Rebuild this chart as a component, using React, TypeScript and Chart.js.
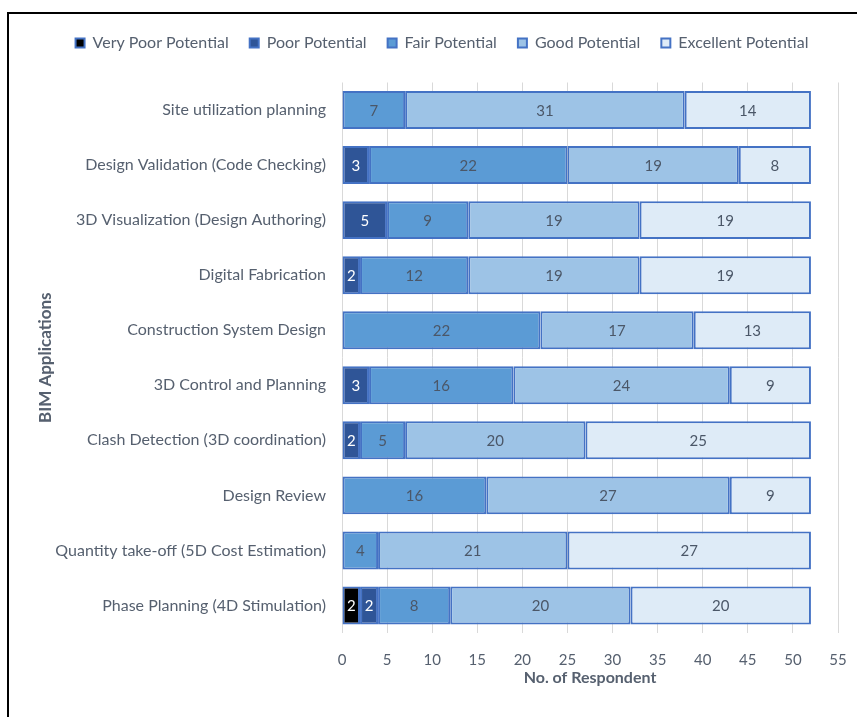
import React, { useEffect, useRef } from 'react';
import { Chart, registerables } from 'chart.js';

Chart.register(...registerables);

const categories = [
  'Site utilization planning',
  'Design Validation (Code Checking)',
  '3D Visualization (Design Authoring)',
  'Digital Fabrication',
  'Construction System Design',
  '3D Control and Planning',
  'Clash Detection (3D coordination)',
  'Design Review',
  'Quantity take-off (5D Cost Estimation)',
  'Phase Planning (4D Stimulation)',
];

const seriesNames = ['Very Poor Potential', 'Poor Potential', 'Fair Potential', 'Good Potential', 'Excellent Potential'];
const veryPoor = [0, 0, 0, 0, 0, 0, 0, 0, 0, 2];
const poor = [0, 3, 5, 2, 0, 3, 2, 0, 0, 2];
const fair = [7, 22, 9, 12, 22, 16, 5, 16, 4, 8];
const good = [31, 19, 19, 19, 17, 24, 20, 27, 21, 20];
const excellent = [14, 8, 19, 19, 13, 9, 25, 9, 27, 20];

const xMin = 0;
const xMax = 55;
const xStep = 5;

const seriesColors = ['#000000', '#2F5597', '#5B9BD5', '#9DC3E6', '#DEEBF7'];
const labelColors = ['#ffffff', '#ffffff', '#4b5768', '#4b5768', '#4b5768'];
const BORDER = '#4472C4';
const TEXT = '#56606f';
const FONT = "Lato, 'DejaVu Sans Condensed', sans-serif";

const dataLabels = {
  id: 'dataLabels',
  afterDatasetsDraw(chart: any) {
    const ctx = chart.ctx;
    ctx.save();
    ctx.font = `15px ${FONT}`;
    ctx.textAlign = 'center';
    ctx.textBaseline = 'middle';
    chart.data.datasets.forEach((ds: any, i: number) => {
      const meta = chart.getDatasetMeta(i);
      meta.data.forEach((el: any, j: number) => {
        const v = ds.data[j];
        if (!v) return;
        const p = el.getCenterPoint();
        ctx.fillStyle = labelColors[i];
        ctx.fillText(String(v), p.x, p.y + 1);
      });
    });
    ctx.restore();
  },
};

const legendGap = {
  id: 'legendGap',
  beforeLayout(chart: any) {
    const lg = chart.legend;
    if (lg && !lg.__patched) {
      const orig = lg.fit;
      lg.fit = function (this: any) {
        orig.call(this);
        this.height += 21.5;
      };
      lg.__patched = true;
    }
  },
  afterLayout(chart: any) {
    const lg = chart.legend;
    if (lg) {
      lg.left += 8;
      lg.right += 8;
    }
  },
};

export default function App() {
  const ref = useRef<HTMLCanvasElement | null>(null);

  useEffect(() => {
    if (!ref.current) return;
    const allData = [veryPoor, poor, fair, good, excellent];
    const chart = new Chart(ref.current, {
      type: 'bar',
      data: {
        labels: categories,
        datasets: allData.map((d, i) => ({
          label: seriesNames[i],
          data: d,
          backgroundColor: seriesColors[i],
          borderColor: BORDER,
          borderWidth: 2,
          borderSkipped: false,
          barPercentage: 0.69,
          categoryPercentage: 1,
        })),
      },
      options: {
        indexAxis: 'y',
        responsive: false,
        animation: false,
        devicePixelRatio: 1,
        layout: { padding: { left: 30, right: 19, top: 14, bottom: 23 } },
        plugins: {
          tooltip: { enabled: false },
          legend: {
            position: 'top',
            labels: {
              boxWidth: 9,
              boxHeight: 9,
              padding: 21,
              color: TEXT,
              font: { family: FONT, size: 16 },
            },
          },
        },
        scales: {
          x: {
            stacked: true,
            min: xMin,
            max: xMax,
            ticks: { stepSize: xStep, color: TEXT, font: { family: FONT, size: 15 }, padding: 3 },
            grid: { color: '#d9d9d9', drawTicks: true, tickLength: 15, tickColor: 'rgba(0,0,0,0)' },
            border: { display: false },
            title: {
              display: true,
              text: 'No. of Respondent',
              color: TEXT,
              font: { family: FONT, size: 16, weight: 'bold' },
              padding: { top: 0, bottom: 7 },
            },
            afterFit: (s: any) => {
              s.height = 61;
            },
          },
          y: {
            stacked: true,
            ticks: { color: TEXT, font: { family: FONT, size: 16 }, padding: 8 },
            grid: { display: false },
            border: { display: false },
            title: {
              display: true,
              text: 'BIM Applications',
              color: TEXT,
              font: { family: FONT, size: 17, weight: 'bold' },
              padding: { top: 5.5, bottom: 0 },
            },
            afterFit: (s: any) => {
              s.width = 312;
            },
          },
        },
      },
      plugins: [dataLabels, legendGap],
    } as any);
    return () => chart.destroy();
  }, []);

  return (
    <div style={{ position: 'absolute', left: 0, top: 0, width: 857, height: 717, background: '#fff', overflow: 'hidden' }}>
      <canvas ref={ref} width={857} height={717} style={{ display: 'block' }} />
      <div
        style={{
          position: 'absolute',
          left: 7,
          top: 12,
          width: 900,
          height: 800,
          borderTop: '2px solid #000',
          borderLeft: '2px solid #000',
          pointerEvents: 'none',
        }}
      />
    </div>
  );
}
